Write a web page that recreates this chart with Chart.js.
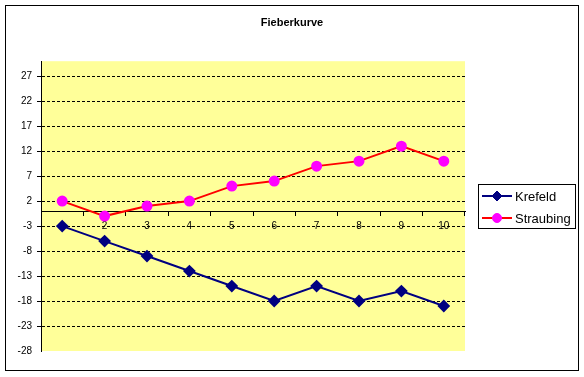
<!DOCTYPE html>
<html>
<head>
<meta charset="utf-8">
<title>Fieberkurve</title>
<script src="https://cdn.jsdelivr.net/npm/chart.js@4.4.1/dist/chart.umd.min.js"></script>
<style>
  html, body { margin: 0; padding: 0; background: #fff; }
  canvas { display: block; }
</style>
</head>
<body>
<canvas id="chart" width="584" height="377"></canvas>
<script>
const days = ["1", "2", "3", "4", "5", "6", "7", "8", "9", "10"];
const krefeld = [-3, -6, -9, -12, -15, -18, -15, -18, -16, -19];
const straubing = [2, -1, 1, 2, 5, 6, 9, 10, 13, 10];
const yTicks = [-28, -23, -18, -13, -8, -3, 2, 7, 12, 17, 22, 27];
const yMin = -28;
const yMax = 30;

const FONT = "'Liberation Sans', Arial, sans-serif";

// white page, yellow plot area, outer frame
const excelFrame = {
  id: "excelFrame",
  beforeDraw(chart) {
    const { ctx, chartArea: a } = chart;
    ctx.save();
    ctx.fillStyle = "#fff";
    ctx.fillRect(0, 0, chart.width, chart.height);
    ctx.fillStyle = "#ffff99";
    ctx.fillRect(a.left, a.top, a.right - a.left, a.bottom - a.top);
    ctx.restore();
  },
  afterDraw(chart) {
    const ctx = chart.ctx;
    ctx.save();
    ctx.strokeStyle = "#000";
    ctx.lineWidth = 1;
    ctx.strokeRect(5.5, 5.5, 573, 365);
    ctx.restore();
  }
};

// Excel style legend: line with marker, boxed
const excelLegend = {
  id: "excelLegend",
  afterDraw(chart) {
    const ctx = chart.ctx;
    const box = { x: 478.5, y: 184.5, w: 97, h: 44 };
    ctx.save();
    ctx.fillStyle = "#fff";
    ctx.fillRect(box.x, box.y, box.w, box.h);
    ctx.strokeStyle = "#000";
    ctx.lineWidth = 1;
    ctx.strokeRect(box.x, box.y, box.w, box.h);
    chart.data.datasets.forEach((ds, i) => {
      const y = 196 + i * 22;
      ctx.strokeStyle = ds.borderColor;
      ctx.lineWidth = 2;
      ctx.beginPath();
      ctx.moveTo(482, y);
      ctx.lineTo(512, y);
      ctx.stroke();
      ctx.fillStyle = ds.pointBackgroundColor;
      ctx.strokeStyle = ds.pointBorderColor;
      ctx.lineWidth = 1;
      Chart.helpers.drawPoint(ctx, {
        pointStyle: ds.pointStyle,
        radius: ds.pointRadius,
        borderWidth: 1,
        rotation: 0
      }, 497, y);
      ctx.fillStyle = "#000";
      ctx.font = "13px " + FONT;
      ctx.textBaseline = "middle";
      ctx.fillText(ds.label, 515, y + 1);
    });
    ctx.restore();
  }
};

new Chart(document.getElementById("chart"), {
  type: "line",
  data: {
    labels: days,
    datasets: [
      {
        label: "Krefeld",
        data: krefeld,
        borderColor: "#000080",
        borderWidth: 2,
        pointStyle: "rectRot",
        pointRadius: 5,
        pointBackgroundColor: "#000080",
        pointBorderColor: "#000080",
        tension: 0
      },
      {
        label: "Straubing",
        data: straubing,
        borderColor: "#ff0000",
        borderWidth: 2,
        pointStyle: "circle",
        pointRadius: 4.5,
        pointBackgroundColor: "#ff00ff",
        pointBorderColor: "#ff00ff",
        tension: 0
      }
    ]
  },
  options: {
    responsive: false,
    animation: false,
    devicePixelRatio: 1,
    layout: { padding: { left: 0, right: 0, top: 0, bottom: 26 } },
    plugins: {
      legend: { display: false },
      tooltip: { enabled: false },
      title: {
        display: true,
        text: "Fieberkurve",
        color: "#000",
        font: { family: FONT, size: 11, weight: "bold" },
        padding: { top: 16, bottom: 32 }
      }
    },
    scales: {
      x: {
        position: { y: 0 },
        offset: true,
        grid: {
          offset: true,
          drawOnChartArea: false,
          drawTicks: true,
          tickLength: 4,
          color: "#000"
        },
        border: { display: true, color: "#000", width: 1 },
        ticks: {
          color: "#000",
          padding: 5,
          maxRotation: 0,
          font: { family: FONT, size: 10 }
        }
      },
      y: {
        min: yMin,
        max: yMax,
        afterBuildTicks(scale) {
          scale.ticks = yTicks.map(v => ({ value: v }));
        },
        afterFit(scale) {
          scale.width = 41;
        },
        grid: {
          color: ctx => (ctx.tick && ctx.tick.value === yMin ? "rgba(0,0,0,0)" : "#000"),
          tickLength: 4,
          lineWidth: 1
        },
        border: { display: true, color: "#000", width: 1, dash: [3, 2] },
        ticks: {
          color: "#000",
          padding: 5,
          font: { family: FONT, size: 10 }
        }
      },
      // empty right-hand space where the legend sits
      side: {
        axis: "y",
        position: "right",
        min: yMin,
        max: yMax,
        grid: { display: false },
        border: { display: false },
        ticks: { display: false },
        afterFit(scale) {
          scale.width = 119;
        }
      }
    }
  },
  plugins: [excelFrame, excelLegend]
});
</script>
</body>
</html>
